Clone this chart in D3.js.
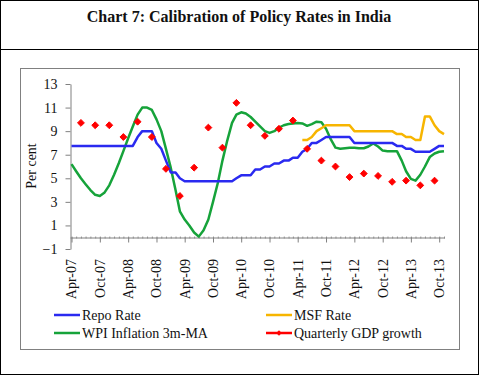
<!DOCTYPE html>
<html>
<head>
<meta charset="utf-8">
<script src="https://cdn.jsdelivr.net/npm/d3@7"></script>
<style>
  body { margin: 0; background: #fff; }
  svg { display: block; font-family: "Liberation Serif", "Times New Roman", serif; }
</style>
</head>
<body>
<div id="chart"></div>
<script>
// monthly series start in Apr-07
const startMonth = "2007-04";

const repoRate = [
  7.75, 7.75, 7.75, 7.75, 7.75, 7.75, 7.75, 7.75, 7.75, 7.75, 7.75, 7.75, 7.75, 7.75,
  8.5, 9.0, 9.0, 9.0, 8.0, 7.5, 6.5, 5.5, 5.5, 5.0,
  4.75, 4.75, 4.75, 4.75, 4.75, 4.75, 4.75, 4.75, 4.75, 4.75, 4.75,
  5.0, 5.25, 5.25, 5.25, 5.75, 5.75, 6.0, 6.0, 6.25, 6.25, 6.5, 6.5, 6.75, 6.75,
  7.25, 7.5, 8.0, 8.0, 8.25, 8.5, 8.5, 8.5, 8.5, 8.5, 8.5,
  8.0, 8.0, 8.0, 8.0, 8.0, 8.0, 8.0, 8.0, 8.0,
  7.75, 7.75, 7.5, 7.5, 7.25, 7.25, 7.25, 7.25, 7.5, 7.75, 7.75
];

// MSF starts May-11
const msfStart = "2011-05";
const msfRate = [
  8.25, 8.25, 8.5, 9.0, 9.25, 9.5, 9.5, 9.5, 9.5, 9.5, 9.5,
  9.0, 9.0, 9.0, 9.0, 9.0, 9.0, 9.0, 9.0, 9.0,
  8.75, 8.75, 8.5, 8.5, 8.25, 8.25, 10.25, 10.25, 9.5, 9.0, 8.75
];

const wpiInflation = [
  6.2, 5.6, 5.0, 4.5, 4.0, 3.6, 3.5, 3.8, 4.4, 5.3, 6.3, 7.3, 8.4, 9.4, 10.4, 11.0,
  11.0, 10.8, 10.0, 9.0, 7.5, 5.9, 4.0, 2.2, 1.5, 1.0, 0.4, 0.05, 0.6, 1.5, 3.0, 4.6,
  6.5, 8.2, 9.7, 10.4, 10.6, 10.5, 10.2, 9.8, 9.4, 9.0, 8.85, 9.0, 9.3, 9.5, 9.6, 9.65,
  9.7, 9.65, 9.45, 9.6, 9.8, 9.75, 9.2, 8.3, 7.6, 7.5, 7.55, 7.6, 7.6, 7.55, 7.55, 7.7,
  7.95, 7.7, 7.35, 7.3, 7.3, 7.3, 6.5, 5.6, 4.95, 4.8, 5.3, 6.0, 6.8, 7.1, 7.25, 7.3
];

const gdpMonths = [
  "2007-06", "2007-09", "2007-12", "2008-03", "2008-06", "2008-09", "2008-12", "2009-03",
  "2009-06", "2009-09", "2009-12", "2010-03", "2010-06", "2010-09", "2010-12", "2011-03",
  "2011-06", "2011-09", "2011-12", "2012-03", "2012-06", "2012-09", "2012-12", "2013-03",
  "2013-06", "2013-09"
];
const gdpGrowth = [
  9.7, 9.5, 9.5, 8.5, 9.8, 8.5, 5.8, 3.5, 5.9, 9.3, 7.6, 11.4, 9.5, 8.6, 9.2, 9.9,
  7.5, 6.5, 6.0, 5.1, 5.4, 5.2, 4.7, 4.8, 4.4, 4.8
];

const tickLabels = [
  "Apr-07", "Oct-07", "Apr-08", "Oct-08", "Apr-09", "Oct-09", "Apr-10",
  "Oct-10", "Apr-11", "Oct-11", "Apr-12", "Oct-12", "Apr-13", "Oct-13"
];
const yTicks = [-1, 1, 3, 5, 7, 9, 11, 13];

const width = 479, height = 375;
const parseYM = d3.timeParse("%Y-%m");
const parseLabel = d3.timeParse("%b-%y");

const t0 = parseYM(startMonth);
const monthDate = (start, i) => d3.timeMonth.offset(start, i);

const svg = d3.select('#chart').append('svg')
    .attr('width', width)
    .attr('height', height);

// frames
svg.append('rect')
    .attr('x', 0.5).attr('y', 0.5)
    .attr('width', width - 1).attr('height', height - 1)
    .attr('fill', '#fff').attr('stroke', '#000');
svg.append('line')
    .attr('x1', 0).attr('x2', width)
    .attr('y1', 49.5).attr('y2', 49.5)
    .attr('stroke', '#000');
svg.append('rect')
    .attr('x', 20.5).attr('y', 68.5)
    .attr('width', 439).attr('height', 281)
    .attr('fill', 'none').attr('stroke', '#808080');

svg.append('text')
    .attr('x', 239).attr('y', 22)
    .attr('text-anchor', 'middle')
    .attr('font-size', 16).attr('font-weight', 'bold')
    .attr('fill', '#111')
    .text('Chart 7: Calibration of Policy Rates in India');

// scales
const x = d3.scaleTime()
    .domain([t0, monthDate(t0, repoRate.length - 1)])
    .range([71.5, 444]);
const y = d3.scaleLinear().domain([-1, 13]).range([249, 84]);

// y axis
const yAxis = svg.append('g')
    .attr('transform', 'translate(70.5,0)')
    .call(d3.axisLeft(y).tickValues(yTicks).tickSize(5).tickPadding(8).tickSizeOuter(0));
yAxis.select('.domain').attr('stroke', '#808080');
yAxis.selectAll('line').attr('stroke', '#808080');
yAxis.selectAll('text').attr('font-size', 14).attr('font-family', '"Liberation Serif", serif').attr('fill', '#111');

svg.append('text')
    .attr('transform', 'translate(36,166) rotate(-90)')
    .attr('text-anchor', 'middle')
    .attr('font-size', 14).attr('fill', '#111')
    .text('Per cent');

// x axis sits on zero
const y0 = Math.round(y(0)) + 0.5;
const minor = svg.append('g')
    .attr('transform', `translate(0,${y0 - 1})`)
    .call(d3.axisBottom(x)
      .tickValues(d3.timeMonth.range(t0, monthDate(t0, repoRate.length)))
      .tickSize(2).tickFormat(''));
minor.select('.domain').remove();
minor.selectAll('line').attr('stroke', '#999');

const xAxis = svg.append('g')
    .attr('transform', `translate(0,${y0})`)
    .call(d3.axisBottom(x)
      .tickValues(tickLabels.map(parseLabel))
      .tickSize(5).tickSizeOuter(0).tickFormat(''));
xAxis.select('.domain').attr('stroke', '#808080').attr('d', `M70.5,0.5H445`);
xAxis.selectAll('line').attr('stroke', '#808080');

svg.append('g')
  .selectAll('text')
  .data(tickLabels)
  .join('text')
    .attr('transform', d => `translate(${x(parseLabel(d))},259) rotate(-90)`)
    .attr('text-anchor', 'end')
    .attr('dy', '0.35em')
    .attr('font-size', 14).attr('fill', '#111')
    .text(d => d);

// lines
const line = d3.line().x(d => x(d.date)).y(d => y(d.v));
const toPoints = (start, arr) => arr.map((v, i) => ({ date: monthDate(start, i), v }));

const blue = '#2a2af0', orange = '#f7b500', green = '#16a33a', red = '#ff0000';

svg.append('path')
    .datum(toPoints(t0, wpiInflation))
    .attr('fill', 'none').attr('stroke', green).attr('stroke-width', 2.5)
    .attr('stroke-linejoin', 'round')
    .attr('d', line);
svg.append('path')
    .datum(toPoints(parseYM(msfStart), msfRate))
    .attr('fill', 'none').attr('stroke', orange).attr('stroke-width', 2.5)
    .attr('stroke-linejoin', 'round')
    .attr('d', line);
svg.append('path')
    .datum(toPoints(t0, repoRate))
    .attr('fill', 'none').attr('stroke', blue).attr('stroke-width', 2.5)
    .attr('stroke-linejoin', 'round')
    .attr('d', line);

// equal-sided diamonds like the Excel markers
const diamond = d3.symbol().type(d3.symbolDiamond2).size(30);
svg.append('g')
  .selectAll('path')
  .data(gdpGrowth)
  .join('path')
    .attr('transform', (d, i) => `translate(${x(parseYM(gdpMonths[i]))},${y(d)})`)
    .attr('d', diamond)
    .attr('fill', red).attr('stroke', red).attr('stroke-width', 1)
    .attr('stroke-linejoin', 'round');

// legend
const legendItems = [
  { name: 'Repo Rate', color: blue, x: 54, y: 315 },
  { name: 'MSF Rate', color: orange, x: 266, y: 315 },
  { name: 'WPI Inflation 3m-MA', color: green, x: 54, y: 333 },
  { name: 'Quarterly GDP growth', color: red, x: 266, y: 333, marker: true }
];
const legend = svg.append('g')
  .selectAll('g')
  .data(legendItems)
  .join('g')
    .attr('transform', d => `translate(${d.x},${d.y})`);
legend.append('line')
    .attr('x1', 0).attr('x2', 26)
    .attr('stroke', d => d.color).attr('stroke-width', 2.5);
legend.filter(d => d.marker).append('path')
    .attr('transform', 'translate(13,0)')
    .attr('d', d3.symbol().type(d3.symbolDiamond2).size(20))
    .attr('fill', red);
legend.append('text')
    .attr('x', 28).attr('dy', '0.35em')
    .attr('font-size', 14).attr('fill', '#111')
    .text(d => d.name);
</script>
</body>
</html>
